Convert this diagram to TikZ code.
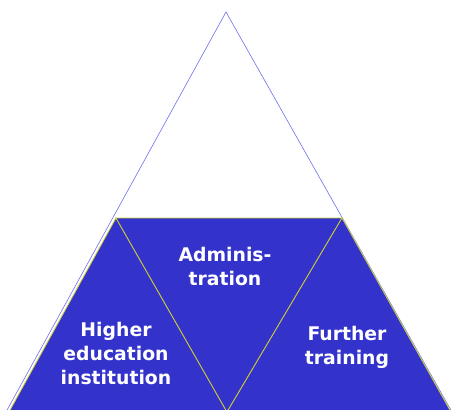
\documentclass[tikz,border=0pt]{standalone}
\usepackage{fontspec}
\setmainfont{DejaVu Sans}
\usepackage{tikz}
\definecolor{pyrblue}{RGB}{51,51,204}
\definecolor{pyrline}{RGB}{110,110,240}
\definecolor{pyryellow}{RGB}{204,204,51}

\begin{document}
\begin{tikzpicture}[x=1pt,y=-1pt,
	part/.style = {fill=pyrblue, draw=pyryellow, line width=0.8pt, line join=miter},
	label/.style = {text=white, align=center, font=\fontsize{18.8}{24}\selectfont\bfseries}]
\useasboundingbox (0,0) rectangle (453,410);
\coordinate (top) at (226,12);
\coordinate (a-l) at (6,412);
\coordinate (a-r) at (452,412);
\coordinate (m-l) at (116,218);
\coordinate (m-r) at (342,218);
\coordinate (b-l) at (9,412);
\coordinate (b-m) at (227,412);
\coordinate (b-r) at (451,412);
\draw[pyrline, line width=0.6pt] (a-l) -- (top) -- (a-r);
\draw[part] (m-l) -- (b-l) -- (b-m) -- cycle;
\draw[part] (m-l) -- (m-r) -- (b-m) -- cycle;
\draw[part] (m-r) -- (b-r) -- (b-m) -- cycle;
\node[label] (admin) at (225,266) {Adminis-\\tration};
\node[label] (higher) at (116,353) {Higher\\education\\institution};
\node[label] (further) at (347,347) {Further\\training};
\end{tikzpicture}
\end{document}
